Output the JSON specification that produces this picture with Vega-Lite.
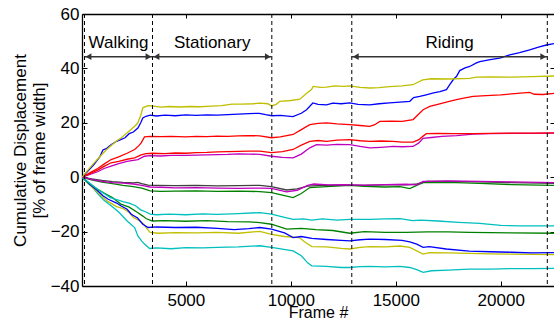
{
"$schema":"https://vega.github.io/schema/vega-lite/v6.json",
"width":472,"height":272,
"autosize":{"type":"none"},
"padding":{"left":82,"top":14,"right":0,"bottom":34},
"background":"white",
"config":{"view":{"stroke":null},"font":"Liberation Sans",
"axis":{"domainColor":"black","domainWidth":1.3,"tickColor":"black","tickSize":-5,"tickWidth":1,"labelColor":"black","labelFontSize":17,"labelFont":"Liberation Sans","titleFont":"Liberation Sans","titleFontSize":17,"titleFontWeight":"normal","titleColor":"black","grid":false}},
"resolve":{"axis":{"x":"independent","y":"independent"}},
"layer":[
{"data":{"values":[
{"id":"C2","c":"c","f":60,"v":0},{"id":"C2","c":"c","f":250,"v":-1.5},{"id":"C2","c":"c","f":500,"v":-3.2},{"id":"C2","c":"c","f":800,"v":-6.0},{"id":"C2","c":"c","f":1100,"v":-8.5},{"id":"C2","c":"c","f":1440,"v":-10.5},{"id":"C2","c":"c","f":1800,"v":-12.8},{"id":"C2","c":"c","f":2200,"v":-16.1},{"id":"C2","c":"c","f":2560,"v":-18.5},{"id":"C2","c":"c","f":2714,"v":-21.6},{"id":"C2","c":"c","f":2900,"v":-23.5},{"id":"C2","c":"c","f":3030,"v":-24.6},{"id":"C2","c":"c","f":3270,"v":-26.2},{"id":"C2","c":"c","f":3600,"v":-26.0},{"id":"C2","c":"c","f":4300,"v":-26.3},{"id":"C2","c":"c","f":5000,"v":-25.9},{"id":"C2","c":"c","f":5800,"v":-26.0},{"id":"C2","c":"c","f":6500,"v":-25.8},{"id":"C2","c":"c","f":7500,"v":-25.6},{"id":"C2","c":"c","f":8524,"v":-25.2},{"id":"C2","c":"c","f":9080,"v":-25.8},{"id":"C2","c":"c","f":10110,"v":-27.1},{"id":"C2","c":"c","f":10500,"v":-28.9},{"id":"C2","c":"c","f":10800,"v":-31.5},{"id":"C2","c":"c","f":11000,"v":-32.6},{"id":"C2","c":"c","f":11700,"v":-32.8},{"id":"C2","c":"c","f":12400,"v":-33.2},{"id":"C2","c":"c","f":12810,"v":-33.2},{"id":"C2","c":"c","f":13300,"v":-32.9},{"id":"C2","c":"c","f":13762,"v":-32.8},{"id":"C2","c":"c","f":14500,"v":-33.0},{"id":"C2","c":"c","f":15200,"v":-32.8},{"id":"C2","c":"c","f":15667,"v":-33.2},{"id":"C2","c":"c","f":16000,"v":-34.0},{"id":"C2","c":"c","f":16302,"v":-35.0},{"id":"C2","c":"c","f":16700,"v":-34.4},{"id":"C2","c":"c","f":17500,"v":-34.2},{"id":"C2","c":"c","f":18500,"v":-33.8},{"id":"C2","c":"c","f":19500,"v":-33.8},{"id":"C2","c":"c","f":20500,"v":-33.6},{"id":"C2","c":"c","f":21500,"v":-33.6},{"id":"C2","c":"c","f":22538,"v":-33.5},
{"id":"Y2","c":"y","f":60,"v":0},{"id":"Y2","c":"y","f":400,"v":-2.7},{"id":"Y2","c":"y","f":800,"v":-5.5},{"id":"Y2","c":"y","f":1050,"v":-7.5},{"id":"Y2","c":"y","f":1300,"v":-9.0},{"id":"Y2","c":"y","f":1700,"v":-10.8},{"id":"Y2","c":"y","f":2000,"v":-11.5},{"id":"Y2","c":"y","f":2300,"v":-13.0},{"id":"Y2","c":"y","f":2500,"v":-14.8},{"id":"Y2","c":"y","f":2800,"v":-16.0},{"id":"Y2","c":"y","f":3000,"v":-17.3},{"id":"Y2","c":"y","f":3150,"v":-19.0},{"id":"Y2","c":"y","f":3300,"v":-20.3},{"id":"Y2","c":"y","f":3700,"v":-20.6},{"id":"Y2","c":"y","f":4500,"v":-20.4},{"id":"Y2","c":"y","f":5500,"v":-20.5},{"id":"Y2","c":"y","f":6500,"v":-20.3},{"id":"Y2","c":"y","f":7500,"v":-20.6},{"id":"Y2","c":"y","f":8524,"v":-19.9},{"id":"Y2","c":"y","f":9080,"v":-21.0},{"id":"Y2","c":"y","f":9700,"v":-21.8},{"id":"Y2","c":"y","f":10400,"v":-22.2},{"id":"Y2","c":"y","f":10700,"v":-24.0},{"id":"Y2","c":"y","f":11000,"v":-25.5},{"id":"Y2","c":"y","f":11700,"v":-25.6},{"id":"Y2","c":"y","f":12400,"v":-26.2},{"id":"Y2","c":"y","f":12810,"v":-26.4},{"id":"Y2","c":"y","f":13300,"v":-25.8},{"id":"Y2","c":"y","f":13762,"v":-25.5},{"id":"Y2","c":"y","f":14500,"v":-25.6},{"id":"Y2","c":"y","f":15200,"v":-25.3},{"id":"Y2","c":"y","f":15667,"v":-25.8},{"id":"Y2","c":"y","f":16302,"v":-28.3},{"id":"Y2","c":"y","f":16600,"v":-27.7},{"id":"Y2","c":"y","f":17500,"v":-27.8},{"id":"Y2","c":"y","f":18500,"v":-28.0},{"id":"Y2","c":"y","f":19500,"v":-28.2},{"id":"Y2","c":"y","f":20500,"v":-28.3},{"id":"Y2","c":"y","f":21500,"v":-28.4},{"id":"Y2","c":"y","f":22538,"v":-28.5},
{"id":"B2","c":"b","f":60,"v":0},{"id":"B2","c":"b","f":400,"v":-2.5},{"id":"B2","c":"b","f":800,"v":-5.0},{"id":"B2","c":"b","f":1050,"v":-6.8},{"id":"B2","c":"b","f":1300,"v":-8.1},{"id":"B2","c":"b","f":1700,"v":-9.5},{"id":"B2","c":"b","f":1900,"v":-10.5},{"id":"B2","c":"b","f":2200,"v":-11.8},{"id":"B2","c":"b","f":2400,"v":-13.6},{"id":"B2","c":"b","f":2700,"v":-15.0},{"id":"B2","c":"b","f":2950,"v":-17.3},{"id":"B2","c":"b","f":3200,"v":-18.5},{"id":"B2","c":"b","f":3600,"v":-18.3},{"id":"B2","c":"b","f":4500,"v":-18.5},{"id":"B2","c":"b","f":5500,"v":-18.4},{"id":"B2","c":"b","f":6500,"v":-18.8},{"id":"B2","c":"b","f":7300,"v":-19.3},{"id":"B2","c":"b","f":8000,"v":-18.9},{"id":"B2","c":"b","f":8524,"v":-18.5},{"id":"B2","c":"b","f":9080,"v":-19.1},{"id":"B2","c":"b","f":9700,"v":-20.5},{"id":"B2","c":"b","f":10110,"v":-22.2},{"id":"B2","c":"b","f":10500,"v":-21.8},{"id":"B2","c":"b","f":11000,"v":-22.5},{"id":"B2","c":"b","f":11700,"v":-22.9},{"id":"B2","c":"b","f":12400,"v":-23.2},{"id":"B2","c":"b","f":12810,"v":-23.4},{"id":"B2","c":"b","f":13300,"v":-23.0},{"id":"B2","c":"b","f":13762,"v":-22.8},{"id":"B2","c":"b","f":14500,"v":-22.9},{"id":"B2","c":"b","f":15300,"v":-23.2},{"id":"B2","c":"b","f":15667,"v":-23.8},{"id":"B2","c":"b","f":16000,"v":-24.6},{"id":"B2","c":"b","f":16302,"v":-25.8},{"id":"B2","c":"b","f":16600,"v":-25.5},{"id":"B2","c":"b","f":17400,"v":-26.4},{"id":"B2","c":"b","f":18500,"v":-27.2},{"id":"B2","c":"b","f":19500,"v":-27.4},{"id":"B2","c":"b","f":20500,"v":-27.6},{"id":"B2","c":"b","f":21500,"v":-27.8},{"id":"B2","c":"b","f":22538,"v":-27.7},
{"id":"G2","c":"g","f":60,"v":0},{"id":"G2","c":"g","f":400,"v":-2.2},{"id":"G2","c":"g","f":800,"v":-4.5},{"id":"G2","c":"g","f":1100,"v":-5.8},{"id":"G2","c":"g","f":1500,"v":-7.5},{"id":"G2","c":"g","f":1900,"v":-9.9},{"id":"G2","c":"g","f":2300,"v":-11.0},{"id":"G2","c":"g","f":2700,"v":-13.0},{"id":"G2","c":"g","f":2950,"v":-14.3},{"id":"G2","c":"g","f":3100,"v":-15.2},{"id":"G2","c":"g","f":3400,"v":-16.1},{"id":"G2","c":"g","f":4000,"v":-16.0},{"id":"G2","c":"g","f":5000,"v":-16.2},{"id":"G2","c":"g","f":6000,"v":-16.0},{"id":"G2","c":"g","f":7000,"v":-16.3},{"id":"G2","c":"g","f":8000,"v":-16.4},{"id":"G2","c":"g","f":8524,"v":-16.7},{"id":"G2","c":"g","f":9080,"v":-17.3},{"id":"G2","c":"g","f":9800,"v":-19.1},{"id":"G2","c":"g","f":10500,"v":-18.8},{"id":"G2","c":"g","f":11200,"v":-19.3},{"id":"G2","c":"g","f":12000,"v":-19.6},{"id":"G2","c":"g","f":12810,"v":-20.6},{"id":"G2","c":"g","f":13500,"v":-20.0},{"id":"G2","c":"g","f":14500,"v":-20.3},{"id":"G2","c":"g","f":15500,"v":-20.3},{"id":"G2","c":"g","f":16500,"v":-20.1},{"id":"G2","c":"g","f":17500,"v":-20.1},{"id":"G2","c":"g","f":18500,"v":-20.3},{"id":"G2","c":"g","f":19500,"v":-20.4},{"id":"G2","c":"g","f":20500,"v":-20.5},{"id":"G2","c":"g","f":22538,"v":-20.6},
{"id":"C1","c":"c","f":60,"v":0},{"id":"C1","c":"c","f":300,"v":-1.5},{"id":"C1","c":"c","f":600,"v":-3.3},{"id":"C1","c":"c","f":800,"v":-4.4},{"id":"C1","c":"c","f":1100,"v":-6.0},{"id":"C1","c":"c","f":1400,"v":-7.5},{"id":"C1","c":"c","f":1700,"v":-8.2},{"id":"C1","c":"c","f":2000,"v":-9.0},{"id":"C1","c":"c","f":2300,"v":-9.5},{"id":"C1","c":"c","f":2600,"v":-10.5},{"id":"C1","c":"c","f":2850,"v":-12.0},{"id":"C1","c":"c","f":3050,"v":-12.6},{"id":"C1","c":"c","f":3300,"v":-13.6},{"id":"C1","c":"c","f":3600,"v":-13.8},{"id":"C1","c":"c","f":4200,"v":-13.6},{"id":"C1","c":"c","f":5000,"v":-13.8},{"id":"C1","c":"c","f":5800,"v":-13.5},{"id":"C1","c":"c","f":6500,"v":-13.7},{"id":"C1","c":"c","f":7500,"v":-13.4},{"id":"C1","c":"c","f":8524,"v":-13.0},{"id":"C1","c":"c","f":9080,"v":-13.6},{"id":"C1","c":"c","f":9600,"v":-14.6},{"id":"C1","c":"c","f":10110,"v":-15.5},{"id":"C1","c":"c","f":10600,"v":-15.3},{"id":"C1","c":"c","f":11000,"v":-15.8},{"id":"C1","c":"c","f":11500,"v":-15.3},{"id":"C1","c":"c","f":12200,"v":-15.8},{"id":"C1","c":"c","f":12810,"v":-15.5},{"id":"C1","c":"c","f":13762,"v":-15.5},{"id":"C1","c":"c","f":14500,"v":-15.3},{"id":"C1","c":"c","f":15200,"v":-15.2},{"id":"C1","c":"c","f":15800,"v":-16.0},{"id":"C1","c":"c","f":16200,"v":-15.8},{"id":"C1","c":"c","f":17000,"v":-16.1},{"id":"C1","c":"c","f":18000,"v":-16.6},{"id":"C1","c":"c","f":19000,"v":-17.0},{"id":"C1","c":"c","f":20000,"v":-17.7},{"id":"C1","c":"c","f":21000,"v":-17.9},{"id":"C1","c":"c","f":22538,"v":-17.9},
{"id":"G1","c":"g","f":60,"v":0},{"id":"G1","c":"g","f":500,"v":-1.0},{"id":"G1","c":"g","f":1000,"v":-1.8},{"id":"G1","c":"g","f":1500,"v":-2.4},{"id":"G1","c":"g","f":2000,"v":-3.0},{"id":"G1","c":"g","f":2500,"v":-3.5},{"id":"G1","c":"g","f":2900,"v":-4.0},{"id":"G1","c":"g","f":3300,"v":-5.0},{"id":"G1","c":"g","f":3800,"v":-5.2},{"id":"G1","c":"g","f":4500,"v":-5.1},{"id":"G1","c":"g","f":5500,"v":-5.0},{"id":"G1","c":"g","f":6500,"v":-5.2},{"id":"G1","c":"g","f":7500,"v":-5.1},{"id":"G1","c":"g","f":8524,"v":-5.3},{"id":"G1","c":"g","f":9080,"v":-5.7},{"id":"G1","c":"g","f":9600,"v":-6.6},{"id":"G1","c":"g","f":10110,"v":-7.5},{"id":"G1","c":"g","f":10500,"v":-6.0},{"id":"G1","c":"g","f":10905,"v":-3.8},{"id":"G1","c":"g","f":11700,"v":-3.5},{"id":"G1","c":"g","f":12810,"v":-3.0},{"id":"G1","c":"g","f":13500,"v":-3.4},{"id":"G1","c":"g","f":14500,"v":-3.6},{"id":"G1","c":"g","f":15200,"v":-3.5},{"id":"G1","c":"g","f":15667,"v":-4.2},{"id":"G1","c":"g","f":16000,"v":-3.0},{"id":"G1","c":"g","f":16302,"v":-2.0},{"id":"G1","c":"g","f":17500,"v":-1.9},{"id":"G1","c":"g","f":19000,"v":-2.3},{"id":"G1","c":"g","f":20500,"v":-2.7},{"id":"G1","c":"g","f":22538,"v":-3.0},
{"id":"K","c":"k","f":60,"v":0},{"id":"K","c":"k","f":500,"v":-0.6},{"id":"K","c":"k","f":1000,"v":-1.2},{"id":"K","c":"k","f":1500,"v":-1.6},{"id":"K","c":"k","f":2000,"v":-1.9},{"id":"K","c":"k","f":2500,"v":-2.1},{"id":"K","c":"k","f":2700,"v":-1.9},{"id":"K","c":"k","f":2900,"v":-2.4},{"id":"K","c":"k","f":3200,"v":-2.9},{"id":"K","c":"k","f":3600,"v":-3.0},{"id":"K","c":"k","f":4500,"v":-3.1},{"id":"K","c":"k","f":5500,"v":-3.0},{"id":"K","c":"k","f":6500,"v":-3.2},{"id":"K","c":"k","f":7500,"v":-3.1},{"id":"K","c":"k","f":8524,"v":-3.0},{"id":"K","c":"k","f":9080,"v":-3.5},{"id":"K","c":"k","f":9794,"v":-4.7},{"id":"K","c":"k","f":10300,"v":-4.3},{"id":"K","c":"k","f":10800,"v":-3.3},{"id":"K","c":"k","f":11500,"v":-3.0},{"id":"K","c":"k","f":12500,"v":-2.9},{"id":"K","c":"k","f":13500,"v":-3.0},{"id":"K","c":"k","f":14500,"v":-2.8},{"id":"K","c":"k","f":15500,"v":-2.8},{"id":"K","c":"k","f":16000,"v":-2.5},{"id":"K","c":"k","f":16500,"v":-1.5},{"id":"K","c":"k","f":17500,"v":-1.5},{"id":"K","c":"k","f":19000,"v":-1.7},{"id":"K","c":"k","f":20500,"v":-2.0},{"id":"K","c":"k","f":22538,"v":-2.3},
{"id":"M2","c":"m","f":60,"v":0},{"id":"M2","c":"m","f":500,"v":-0.8},{"id":"M2","c":"m","f":1000,"v":-1.5},{"id":"M2","c":"m","f":1500,"v":-2.0},{"id":"M2","c":"m","f":2000,"v":-2.2},{"id":"M2","c":"m","f":2500,"v":-2.5},{"id":"M2","c":"m","f":2900,"v":-3.0},{"id":"M2","c":"m","f":3300,"v":-3.6},{"id":"M2","c":"m","f":3800,"v":-3.7},{"id":"M2","c":"m","f":4500,"v":-3.9},{"id":"M2","c":"m","f":5500,"v":-3.8},{"id":"M2","c":"m","f":6500,"v":-4.0},{"id":"M2","c":"m","f":7500,"v":-4.1},{"id":"M2","c":"m","f":8524,"v":-4.0},{"id":"M2","c":"m","f":9080,"v":-4.1},{"id":"M2","c":"m","f":9794,"v":-5.4},{"id":"M2","c":"m","f":10300,"v":-4.8},{"id":"M2","c":"m","f":10800,"v":-3.0},{"id":"M2","c":"m","f":11100,"v":-2.5},{"id":"M2","c":"m","f":11800,"v":-2.8},{"id":"M2","c":"m","f":12500,"v":-2.7},{"id":"M2","c":"m","f":13500,"v":-2.9},{"id":"M2","c":"m","f":14500,"v":-2.7},{"id":"M2","c":"m","f":15500,"v":-2.6},{"id":"M2","c":"m","f":16000,"v":-2.8},{"id":"M2","c":"m","f":16302,"v":-1.5},{"id":"M2","c":"m","f":17500,"v":-1.4},{"id":"M2","c":"m","f":19000,"v":-1.5},{"id":"M2","c":"m","f":20500,"v":-1.7},{"id":"M2","c":"m","f":22538,"v":-2.0},
{"id":"M1","c":"m","f":60,"v":0},{"id":"M1","c":"m","f":400,"v":0.9},{"id":"M1","c":"m","f":800,"v":2.0},{"id":"M1","c":"m","f":1100,"v":3.2},{"id":"M1","c":"m","f":1440,"v":4.1},{"id":"M1","c":"m","f":1800,"v":5.0},{"id":"M1","c":"m","f":2200,"v":5.8},{"id":"M1","c":"m","f":2714,"v":6.5},{"id":"M1","c":"m","f":3030,"v":7.7},{"id":"M1","c":"m","f":3300,"v":7.9},{"id":"M1","c":"m","f":3800,"v":7.8},{"id":"M1","c":"m","f":4300,"v":8.0},{"id":"M1","c":"m","f":5000,"v":8.0},{"id":"M1","c":"m","f":5500,"v":8.1},{"id":"M1","c":"m","f":6000,"v":8.2},{"id":"M1","c":"m","f":6500,"v":8.3},{"id":"M1","c":"m","f":7000,"v":8.4},{"id":"M1","c":"m","f":7500,"v":8.6},{"id":"M1","c":"m","f":8000,"v":8.5},{"id":"M1","c":"m","f":8524,"v":8.4},{"id":"M1","c":"m","f":9080,"v":7.7},{"id":"M1","c":"m","f":9600,"v":7.3},{"id":"M1","c":"m","f":10110,"v":7.1},{"id":"M1","c":"m","f":10500,"v":8.5},{"id":"M1","c":"m","f":10905,"v":10.8},{"id":"M1","c":"m","f":11222,"v":12.0},{"id":"M1","c":"m","f":11700,"v":11.8},{"id":"M1","c":"m","f":12200,"v":12.1},{"id":"M1","c":"m","f":12810,"v":12.0},{"id":"M1","c":"m","f":13300,"v":11.3},{"id":"M1","c":"m","f":13762,"v":10.8},{"id":"M1","c":"m","f":14300,"v":11.0},{"id":"M1","c":"m","f":14870,"v":11.3},{"id":"M1","c":"m","f":15300,"v":11.2},{"id":"M1","c":"m","f":15825,"v":11.3},{"id":"M1","c":"m","f":16100,"v":12.6},{"id":"M1","c":"m","f":16302,"v":14.3},{"id":"M1","c":"m","f":16700,"v":14.6},{"id":"M1","c":"m","f":17200,"v":15.0},{"id":"M1","c":"m","f":17900,"v":15.3},{"id":"M1","c":"m","f":18683,"v":15.8},{"id":"M1","c":"m","f":19500,"v":16.0},{"id":"M1","c":"m","f":20500,"v":16.1},{"id":"M1","c":"m","f":21500,"v":16.1},{"id":"M1","c":"m","f":22538,"v":16.2},
{"id":"R2","c":"r","f":60,"v":0},{"id":"R2","c":"r","f":400,"v":1.2},{"id":"R2","c":"r","f":800,"v":2.6},{"id":"R2","c":"r","f":1100,"v":4.0},{"id":"R2","c":"r","f":1440,"v":5.3},{"id":"R2","c":"r","f":1800,"v":5.8},{"id":"R2","c":"r","f":2200,"v":6.6},{"id":"R2","c":"r","f":2560,"v":7.1},{"id":"R2","c":"r","f":2870,"v":8.2},{"id":"R2","c":"r","f":3100,"v":8.7},{"id":"R2","c":"r","f":3400,"v":8.8},{"id":"R2","c":"r","f":4000,"v":8.7},{"id":"R2","c":"r","f":4500,"v":8.9},{"id":"R2","c":"r","f":5000,"v":8.8},{"id":"R2","c":"r","f":5500,"v":9.0},{"id":"R2","c":"r","f":6000,"v":9.1},{"id":"R2","c":"r","f":6500,"v":9.3},{"id":"R2","c":"r","f":7000,"v":9.4},{"id":"R2","c":"r","f":7500,"v":9.5},{"id":"R2","c":"r","f":8000,"v":9.6},{"id":"R2","c":"r","f":8524,"v":9.6},{"id":"R2","c":"r","f":9080,"v":9.0},{"id":"R2","c":"r","f":9600,"v":9.4},{"id":"R2","c":"r","f":10110,"v":10.2},{"id":"R2","c":"r","f":10500,"v":11.8},{"id":"R2","c":"r","f":10905,"v":13.2},{"id":"R2","c":"r","f":11300,"v":13.5},{"id":"R2","c":"r","f":11700,"v":13.2},{"id":"R2","c":"r","f":12200,"v":13.6},{"id":"R2","c":"r","f":12810,"v":13.8},{"id":"R2","c":"r","f":13300,"v":13.4},{"id":"R2","c":"r","f":13762,"v":13.2},{"id":"R2","c":"r","f":14300,"v":13.3},{"id":"R2","c":"r","f":14870,"v":13.2},{"id":"R2","c":"r","f":15300,"v":12.9},{"id":"R2","c":"r","f":15825,"v":12.9},{"id":"R2","c":"r","f":16100,"v":13.8},{"id":"R2","c":"r","f":16302,"v":15.1},{"id":"R2","c":"r","f":16460,"v":16.0},{"id":"R2","c":"r","f":17000,"v":16.1},{"id":"R2","c":"r","f":17800,"v":16.0},{"id":"R2","c":"r","f":18683,"v":16.0},{"id":"R2","c":"r","f":19500,"v":16.1},{"id":"R2","c":"r","f":20500,"v":16.2},{"id":"R2","c":"r","f":21500,"v":16.2},{"id":"R2","c":"r","f":22538,"v":16.3},
{"id":"R1","c":"r","f":60,"v":0},{"id":"R1","c":"r","f":400,"v":1.5},{"id":"R1","c":"r","f":800,"v":3.2},{"id":"R1","c":"r","f":1100,"v":4.8},{"id":"R1","c":"r","f":1440,"v":6.5},{"id":"R1","c":"r","f":1800,"v":7.5},{"id":"R1","c":"r","f":2200,"v":8.8},{"id":"R1","c":"r","f":2560,"v":10.2},{"id":"R1","c":"r","f":2750,"v":11.5},{"id":"R1","c":"r","f":2870,"v":12.6},{"id":"R1","c":"r","f":3030,"v":14.8},{"id":"R1","c":"r","f":3300,"v":15.0},{"id":"R1","c":"r","f":3800,"v":14.9},{"id":"R1","c":"r","f":4300,"v":15.0},{"id":"R1","c":"r","f":5000,"v":14.8},{"id":"R1","c":"r","f":5500,"v":15.0},{"id":"R1","c":"r","f":6000,"v":14.9},{"id":"R1","c":"r","f":6500,"v":15.1},{"id":"R1","c":"r","f":7000,"v":15.0},{"id":"R1","c":"r","f":7500,"v":15.2},{"id":"R1","c":"r","f":8000,"v":15.3},{"id":"R1","c":"r","f":8524,"v":15.2},{"id":"R1","c":"r","f":9080,"v":14.5},{"id":"R1","c":"r","f":9500,"v":14.8},{"id":"R1","c":"r","f":10110,"v":15.7},{"id":"R1","c":"r","f":10500,"v":17.5},{"id":"R1","c":"r","f":10905,"v":19.3},{"id":"R1","c":"r","f":11300,"v":19.8},{"id":"R1","c":"r","f":11700,"v":20.0},{"id":"R1","c":"r","f":12200,"v":19.6},{"id":"R1","c":"r","f":12810,"v":19.3},{"id":"R1","c":"r","f":13300,"v":19.0},{"id":"R1","c":"r","f":13762,"v":18.7},{"id":"R1","c":"r","f":14000,"v":19.3},{"id":"R1","c":"r","f":14238,"v":20.5},{"id":"R1","c":"r","f":14800,"v":20.6},{"id":"R1","c":"r","f":15300,"v":20.5},{"id":"R1","c":"r","f":15825,"v":21.2},{"id":"R1","c":"r","f":16000,"v":22.5},{"id":"R1","c":"r","f":16302,"v":24.8},{"id":"R1","c":"r","f":16619,"v":26.0},{"id":"R1","c":"r","f":17000,"v":26.8},{"id":"R1","c":"r","f":17500,"v":27.8},{"id":"R1","c":"r","f":17890,"v":28.5},{"id":"R1","c":"r","f":18300,"v":29.2},{"id":"R1","c":"r","f":18683,"v":29.7},{"id":"R1","c":"r","f":19300,"v":30.0},{"id":"R1","c":"r","f":20000,"v":30.3},{"id":"R1","c":"r","f":20800,"v":30.8},{"id":"R1","c":"r","f":21381,"v":31.2},{"id":"R1","c":"r","f":21600,"v":30.5},{"id":"R1","c":"r","f":22000,"v":30.4},{"id":"R1","c":"r","f":22538,"v":30.8},
{"id":"B1","c":"b","f":60,"v":0},{"id":"B1","c":"b","f":300,"v":2.0},{"id":"B1","c":"b","f":600,"v":4.5},{"id":"B1","c":"b","f":900,"v":7.5},{"id":"B1","c":"b","f":1050,"v":10.0},{"id":"B1","c":"b","f":1200,"v":10.5},{"id":"B1","c":"b","f":1450,"v":12.0},{"id":"B1","c":"b","f":1700,"v":13.2},{"id":"B1","c":"b","f":1900,"v":13.8},{"id":"B1","c":"b","f":2100,"v":14.5},{"id":"B1","c":"b","f":2300,"v":16.0},{"id":"B1","c":"b","f":2500,"v":16.6},{"id":"B1","c":"b","f":2714,"v":18.1},{"id":"B1","c":"b","f":2850,"v":20.0},{"id":"B1","c":"b","f":2950,"v":21.8},{"id":"B1","c":"b","f":3100,"v":22.4},{"id":"B1","c":"b","f":3300,"v":22.8},{"id":"B1","c":"b","f":3600,"v":22.5},{"id":"B1","c":"b","f":4000,"v":22.8},{"id":"B1","c":"b","f":4500,"v":22.6},{"id":"B1","c":"b","f":5000,"v":22.9},{"id":"B1","c":"b","f":5500,"v":22.7},{"id":"B1","c":"b","f":6000,"v":22.9},{"id":"B1","c":"b","f":6500,"v":22.8},{"id":"B1","c":"b","f":7000,"v":23.0},{"id":"B1","c":"b","f":7500,"v":23.2},{"id":"B1","c":"b","f":8000,"v":23.4},{"id":"B1","c":"b","f":8500,"v":23.5},{"id":"B1","c":"b","f":8800,"v":23.0},{"id":"B1","c":"b","f":9100,"v":22.6},{"id":"B1","c":"b","f":9500,"v":22.7},{"id":"B1","c":"b","f":10100,"v":22.3},{"id":"B1","c":"b","f":10500,"v":23.5},{"id":"B1","c":"b","f":10750,"v":24.8},{"id":"B1","c":"b","f":11050,"v":27.3},{"id":"B1","c":"b","f":11300,"v":26.8},{"id":"B1","c":"b","f":11700,"v":26.6},{"id":"B1","c":"b","f":12000,"v":27.2},{"id":"B1","c":"b","f":12400,"v":27.0},{"id":"B1","c":"b","f":12810,"v":27.3},{"id":"B1","c":"b","f":13200,"v":26.8},{"id":"B1","c":"b","f":13762,"v":26.6},{"id":"B1","c":"b","f":14200,"v":27.0},{"id":"B1","c":"b","f":14700,"v":27.3},{"id":"B1","c":"b","f":15200,"v":27.6},{"id":"B1","c":"b","f":15667,"v":27.9},{"id":"B1","c":"b","f":15850,"v":29.3},{"id":"B1","c":"b","f":16143,"v":29.7},{"id":"B1","c":"b","f":16450,"v":30.3},{"id":"B1","c":"b","f":16800,"v":31.0},{"id":"B1","c":"b","f":17100,"v":31.5},{"id":"B1","c":"b","f":17414,"v":32.2},{"id":"B1","c":"b","f":17571,"v":34.0},{"id":"B1","c":"b","f":17750,"v":36.0},{"id":"B1","c":"b","f":17890,"v":37.0},{"id":"B1","c":"b","f":18048,"v":39.2},{"id":"B1","c":"b","f":18300,"v":40.2},{"id":"B1","c":"b","f":18524,"v":40.7},{"id":"B1","c":"b","f":18843,"v":42.0},{"id":"B1","c":"b","f":19000,"v":42.5},{"id":"B1","c":"b","f":19500,"v":43.2},{"id":"B1","c":"b","f":19952,"v":43.8},{"id":"B1","c":"b","f":20429,"v":45.0},{"id":"B1","c":"b","f":20900,"v":45.8},{"id":"B1","c":"b","f":21381,"v":46.8},{"id":"B1","c":"b","f":21800,"v":47.8},{"id":"B1","c":"b","f":22176,"v":48.6},{"id":"B1","c":"b","f":22538,"v":49.1},
{"id":"Y1","c":"y","f":60,"v":0},{"id":"Y1","c":"y","f":300,"v":2.3},{"id":"Y1","c":"y","f":600,"v":5.0},{"id":"Y1","c":"y","f":900,"v":7.5},{"id":"Y1","c":"y","f":1200,"v":10.0},{"id":"Y1","c":"y","f":1500,"v":12.0},{"id":"Y1","c":"y","f":1700,"v":13.3},{"id":"Y1","c":"y","f":1920,"v":14.5},{"id":"Y1","c":"y","f":2150,"v":16.0},{"id":"Y1","c":"y","f":2400,"v":17.6},{"id":"Y1","c":"y","f":2600,"v":19.0},{"id":"Y1","c":"y","f":2714,"v":20.0},{"id":"Y1","c":"y","f":2850,"v":22.8},{"id":"Y1","c":"y","f":2950,"v":25.5},{"id":"Y1","c":"y","f":3190,"v":26.3},{"id":"Y1","c":"y","f":3400,"v":26.2},{"id":"Y1","c":"y","f":3800,"v":25.8},{"id":"Y1","c":"y","f":4200,"v":26.0},{"id":"Y1","c":"y","f":4700,"v":25.8},{"id":"Y1","c":"y","f":5200,"v":26.0},{"id":"Y1","c":"y","f":5700,"v":25.9},{"id":"Y1","c":"y","f":6200,"v":26.1},{"id":"Y1","c":"y","f":6700,"v":26.3},{"id":"Y1","c":"y","f":7200,"v":26.9},{"id":"Y1","c":"y","f":7700,"v":26.9},{"id":"Y1","c":"y","f":8200,"v":27.0},{"id":"Y1","c":"y","f":8524,"v":27.2},{"id":"Y1","c":"y","f":8900,"v":27.0},{"id":"Y1","c":"y","f":9080,"v":26.2},{"id":"Y1","c":"y","f":9300,"v":26.8},{"id":"Y1","c":"y","f":9476,"v":27.9},{"id":"Y1","c":"y","f":10000,"v":28.2},{"id":"Y1","c":"y","f":10429,"v":28.7},{"id":"Y1","c":"y","f":10700,"v":30.5},{"id":"Y1","c":"y","f":10984,"v":32.2},{"id":"Y1","c":"y","f":11064,"v":33.4},{"id":"Y1","c":"y","f":11400,"v":33.0},{"id":"Y1","c":"y","f":11700,"v":33.1},{"id":"Y1","c":"y","f":12100,"v":33.6},{"id":"Y1","c":"y","f":12500,"v":33.4},{"id":"Y1","c":"y","f":12810,"v":33.6},{"id":"Y1","c":"y","f":13300,"v":33.0},{"id":"Y1","c":"y","f":13762,"v":32.8},{"id":"Y1","c":"y","f":14200,"v":32.9},{"id":"Y1","c":"y","f":14700,"v":33.3},{"id":"Y1","c":"y","f":15300,"v":33.6},{"id":"Y1","c":"y","f":15810,"v":34.0},{"id":"Y1","c":"y","f":16286,"v":35.8},{"id":"Y1","c":"y","f":16700,"v":36.2},{"id":"Y1","c":"y","f":17500,"v":36.1},{"id":"Y1","c":"y","f":18524,"v":36.3},{"id":"Y1","c":"y","f":18843,"v":36.8},{"id":"Y1","c":"y","f":19500,"v":36.9},{"id":"Y1","c":"y","f":20500,"v":36.8},{"id":"Y1","c":"y","f":21500,"v":37.0},{"id":"Y1","c":"y","f":22538,"v":37.2}
]},
"mark":{"type":"line","strokeWidth":1.3,"clip":true},
"encoding":{
"x":{"field":"f","type":"quantitative","scale":{"domain":[52,22538],"nice":false,"zero":false},"axis":{"orient":"bottom","values":[5000,10000,15000,20000],"format":"d","title":"Frame #","titleFontSize":16,"labelPadding":11,"titlePadding":-4}},
"y":{"field":"v","type":"quantitative","scale":{"domain":[-40,60],"nice":false,"zero":false},"axis":{"orient":"left","values":[-40,-20,0,20,40,60],"title":["Cumulative Displacement","[% of frame width]"],"labelPadding":8,"titlePadding":2}},
"color":{"field":"c","type":"nominal","scale":{"domain":["b","y","r","m","k","g","c"],"range":["#0000ff","#bfbf00","#ff0000","#bf00bf","#404040","#008000","#00bfbf"]},"legend":null},
"detail":{"field":"id"}}},
{"data":{"values":[{"x":171},{"x":3410},{"x":9095},{"x":12905},{"x":22219}]},
"mark":{"type":"rule","color":"black","strokeWidth":1,"strokeDash":[4,3]},
"encoding":{"x":{"field":"x","type":"quantitative","axis":{"orient":"top","labels":false,"title":null,"values":[5000,10000,15000,20000],"tickSize":-4}}}},
{"data":{"values":[{"a":171,"b":3410,"y":44.3,"t":"Walking"},{"a":3410,"b":9095,"y":44.3,"t":"Stationary"},{"a":12905,"b":22219,"y":44.3,"t":"Riding"}]},
"mark":{"type":"rule","color":"#333333","strokeWidth":1.5},
"encoding":{"x":{"field":"a","type":"quantitative","axis":null},"x2":{"field":"b"},"y":{"field":"y","type":"quantitative","axis":{"orient":"right","labels":false,"title":null,"domain":false,"values":[-40,-20,0,20,40,60],"tickSize":-4}}}},
{"data":{"values":[{"a":171,"b":3410,"y":44.3,"t":"Walking"},{"a":3410,"b":9095,"y":44.3,"t":"Stationary"},{"a":12905,"b":22219,"y":44.3,"t":"Riding"}]},
"mark":{"type":"point","shape":"triangle-left","filled":true,"color":"#333333","size":45,"xOffset":4,"opacity":1},
"encoding":{"x":{"field":"a","type":"quantitative","axis":null},"y":{"field":"y","type":"quantitative","axis":null}}},
{"data":{"values":[{"a":171,"b":3410,"y":44.3,"t":"Walking"},{"a":3410,"b":9095,"y":44.3,"t":"Stationary"},{"a":12905,"b":22219,"y":44.3,"t":"Riding"}]},
"mark":{"type":"point","shape":"triangle-right","filled":true,"color":"#333333","size":45,"xOffset":-4,"opacity":1},
"encoding":{"x":{"field":"b","type":"quantitative","axis":null},"y":{"field":"y","type":"quantitative","axis":null}}},
{"data":{"values":[{"a":171,"b":3410,"y":44.3,"t":"Walking"},{"a":3410,"b":9095,"y":44.3,"t":"Stationary"},{"a":12905,"b":22219,"y":44.3,"t":"Riding"}]},
"transform":[{"calculate":"(datum.a+datum.b)/2","as":"m"}],
"mark":{"type":"text","fontSize":17,"font":"Liberation Sans","color":"black","dy":-14,"baseline":"middle","align":"center"},
"encoding":{"x":{"field":"m","type":"quantitative","axis":null},"y":{"field":"y","type":"quantitative","axis":null},"text":{"field":"t"}}}
]
}
